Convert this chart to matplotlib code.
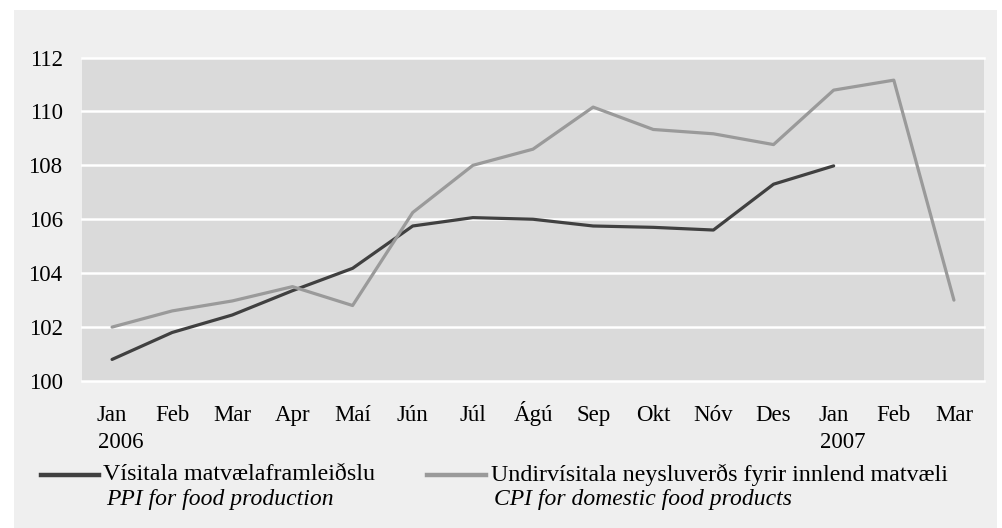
import matplotlib
matplotlib.use('Agg')
from matplotlib import pyplot as plt
from matplotlib.lines import Line2D
from matplotlib.patches import Rectangle
import numpy as np

months = ['Jan', 'Feb', 'Mar', 'Apr', 'Maí', 'Jún', 'Júl', 'Ágú', 'Sep', 'Okt', 'Nóv', 'Des', 'Jan', 'Feb', 'Mar']
years = {0: '2006', 12: '2007'}
# PPI for food production (ends Jan 2007)
ppi = [100.8, 101.8, 102.45, 103.35, 104.18, 105.75, 106.06, 106.0, 105.75, 105.7, 105.6, 107.3, 107.98]
# CPI for domestic food products
cpi = [102.0, 102.6, 102.97, 103.5, 102.8, 106.25, 108.0, 108.6, 110.16, 109.33, 109.17, 108.77, 110.79, 111.16, 103.0]
ppi_label = ['Vísitala matvælaframleiðslu', 'PPI for food production']
cpi_label = ['Undirvísitala neysluverðs fyrir innlend matvæli', 'CPI for domestic food products']

plt.rcParams['font.family'] = ['Liberation Serif', 'DejaVu Serif']
W, H = 1002, 528
fig = plt.figure(figsize=(W/100, H/100), dpi=100, facecolor='white')

# outer grey frame
fig.add_artist(Rectangle((14/W, 0), (997-14)/W, (H-10)/H, transform=fig.transFigure,
                         facecolor='#efefef', edgecolor='none', zorder=0))

ax = fig.add_axes([82/W, (H-381)/H, (984-82)/W, (381-57.5)/H])
ax.set_facecolor('#dadada')
for s in ax.spines.values():
    s.set_visible(False)

x = np.arange(len(months))
ax.plot(x[:len(ppi)], ppi, color='#404040', lw=2.3, solid_capstyle='round', zorder=3)
ax.plot(x, cpi, color='#9a9a9a', lw=2.3, solid_capstyle='round', zorder=3)

ax.set_xlim(-0.5, len(months)-0.5)
ax.set_ylim(100, 112)
ax.set_yticks(np.arange(100, 113, 2))
ax.set_xticks(x)
ax.set_xticklabels(months, fontsize=16.5)
for lbl in ax.get_xticklabels():
    lbl.set_va('baseline')  # keep Ágú on the same baseline
ax.tick_params(axis='x', length=0, pad=29)
ax.tick_params(axis='y', length=0, pad=14, labelsize=16.5)
ax.grid(axis='y', color='white', lw=1.8)
ax.set_axisbelow(True)
for gl in ax.get_ygridlines():
    gl.set_clip_on(False)

for i, yr in years.items():
    ax.annotate(yr, xy=(i, 0), xycoords=ax.get_xaxis_transform(), xytext=(-14, -67),
                textcoords='offset pixels', ha='left', va='baseline', fontsize=16.5)

# legend drawn by hand: line + two-line label (second line italic)
for (x0, x1, tx), col, lab in [((41, 99, 103), '#404040', ppi_label),
                               ((427, 486, 491), '#9a9a9a', cpi_label)]:
    fig.add_artist(Line2D([x0/W, x1/W], [(H-474.5)/H]*2, transform=fig.transFigure,
                          color=col, lw=3.2))
    fig.text(tx/W, (H-474.5)/H, lab[0], fontsize=17.3, va='center', ha='left')
    fig.text((tx+3)/W, (H-500)/H, lab[1], fontsize=17, va='center', ha='left', style='italic')

fig.savefig('out.png', dpi=100, facecolor='white')
